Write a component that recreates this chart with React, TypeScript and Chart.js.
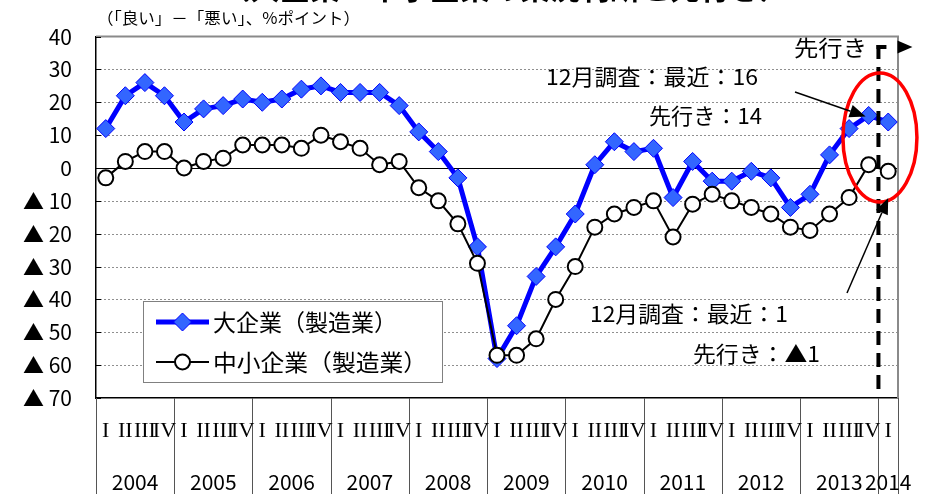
import { useEffect, useRef } from "react";
import { Chart, registerables } from "chart.js";
Chart.register(...registerables);

const years = ["2004", "2005", "2006", "2007", "2008", "2009", "2010", "2011", "2012", "2013", "2014"];
const quarterNames = ["I", "II", "III", "IV"];
const quartersInLastYear = 1;

const largeMfg = [12, 22, 26, 22, 14, 18, 19, 21, 20, 21, 24, 25, 23, 23, 23, 19, 11, 5, -3, -24, -58, -48, -33, -24, -14, 1, 8, 5, 6, -9, 2, -4, -4, -1, -3, -12, -8, 4, 12, 16, 14];
const smallMfg = [-3, 2, 5, 5, 0, 2, 3, 7, 7, 7, 6, 10, 8, 6, 1, 2, -6, -10, -17, -29, -57, -57, -52, -40, -30, -18, -14, -12, -10, -21, -11, -8, -10, -12, -14, -18, -19, -14, -9, 1, -1];

const seriesNames = ["大企業（製造業）", "中小企業（製造業）"];
const yMin = -70;
const yMax = 40;
const yStep = 10;

const titleText = "（大企業・中小企業の業況判断と先行き）";
const unitText = "（「良い」－「悪い」、%ポイント）";
const forecastText = "先行き";
const largeLatestText = "12月調査：最近：16";
const largeForecastText = "先行き：14";
const smallLatestText = "12月調査：最近：1";
const smallForecastText = "先行き：▲1";

const categories: string[] = [];
years.forEach((y, yi) => {
  const n = yi === years.length - 1 ? quartersInLastYear : 4;
  for (let q = 0; q < n; q++) categories.push(`${y} ${quarterNames[q]}`);
});

const FONT = "'Noto Sans CJK JP', 'Noto Sans', sans-serif";

function fitText(ctx: CanvasRenderingContext2D, text: string, left: number, right: number, y: number) {
  const w = ctx.measureText(text).width;
  const target = right - left;
  const k = w > 0 ? target / w : 1;
  ctx.save();
  ctx.textAlign = "left";
  ctx.translate(left, y);
  ctx.scale(k, 1);
  ctx.fillText(text, 0, 0);
  ctx.restore();
}

function arrow(ctx: CanvasRenderingContext2D, x1: number, y1: number, x2: number, y2: number) {
  const ang = Math.atan2(y2 - y1, x2 - x1);
  const len = 16, half = 6.5;
  const bx = x2 - Math.cos(ang) * len, by = y2 - Math.sin(ang) * len;
  ctx.save();
  ctx.strokeStyle = "#000";
  ctx.lineWidth = 1.5;
  ctx.beginPath();
  ctx.moveTo(x1, y1);
  ctx.lineTo(bx, by);
  ctx.stroke();
  ctx.fillStyle = "#000";
  ctx.beginPath();
  ctx.moveTo(x2, y2);
  ctx.lineTo(bx + Math.sin(ang) * half, by - Math.cos(ang) * half);
  ctx.lineTo(bx - Math.sin(ang) * half, by + Math.cos(ang) * half);
  ctx.closePath();
  ctx.fill();
  ctx.restore();
}

const decorPlugin = {
  id: "decor",
  beforeDatasetsDraw(chart: any) {
    const { ctx, chartArea: ca, scales } = chart;
    const ys = scales.y;
    ctx.save();
    for (let v = yMin + yStep; v < yMax; v += yStep) {
      const py = Math.round(ys.getPixelForValue(v)) + 0.5;
      ctx.beginPath();
      if (v === 0) {
        ctx.setLineDash([]);
        ctx.strokeStyle = "#000";
      } else {
        ctx.setLineDash([2, 2]);
        ctx.strokeStyle = "#8f8f8f";
      }
      ctx.lineWidth = 1;
      ctx.moveTo(ca.left, py);
      ctx.lineTo(ca.right, py);
      ctx.stroke();
    }
    ctx.setLineDash([]);
    ctx.strokeStyle = "#8a8a8a";
    ctx.lineWidth = 2;
    ctx.beginPath();
    ctx.moveTo(ca.left, ca.top);
    ctx.lineTo(ca.right, ca.top);
    ctx.lineTo(ca.right, ca.bottom);
    ctx.stroke();
    ctx.strokeStyle = "#000";
    ctx.lineWidth = 1;
    for (let v = yMin; v <= yMax; v += yStep) {
      const py = Math.round(ys.getPixelForValue(v)) + 0.5;
      ctx.beginPath();
      ctx.moveTo(ca.left, py);
      ctx.lineTo(ca.left + 5, py);
      ctx.stroke();
    }
    ctx.restore();
  },
  afterDatasetsDraw(chart: any) {
    const { ctx, chartArea: ca, scales } = chart;
    const xs = scales.x, ys = scales.y;
    const step = xs.getPixelForValue(1) - xs.getPixelForValue(0);
    const n = categories.length;
    ctx.save();

    // forecast dashed line
    const fx = xs.getPixelForValue(n - 1) - step / 2;
    const topY = 47;
    ctx.strokeStyle = "#000";
    ctx.lineWidth = 4;
    ctx.setLineDash([14, 8]);
    ctx.beginPath();
    ctx.moveTo(fx, topY - 2);
    ctx.lineTo(fx, ca.bottom);
    ctx.stroke();
    ctx.setLineDash([]);
    ctx.beginPath();
    ctx.moveTo(fx - 2, topY);
    ctx.lineTo(fx + 8, topY);
    ctx.stroke();
    ctx.fillStyle = "#000";
    ctx.beginPath();
    ctx.moveTo(fx + 19, topY - 6.5);
    ctx.lineTo(fx + 34, topY);
    ctx.lineTo(fx + 19, topY + 6.5);
    ctx.closePath();
    ctx.fill();

    // red ellipse
    ctx.strokeStyle = "#ff0000";
    ctx.lineWidth = 3.5;
    ctx.beginPath();
    ctx.ellipse(fx + 1.5, 137.5, 37, 64.5, 0, 0, Math.PI * 2);
    ctx.stroke();

    // arrows
    const lx = xs.getPixelForValue(n - 2), ly = ys.getPixelForValue(largeMfg[n - 2]);
    arrow(ctx, 795, 92, lx - 3, ly + 1);
    const sx = xs.getPixelForValue(n - 1);
    arrow(ctx, 847, 293, sx, 198);

    // annotation texts
    ctx.fillStyle = "#000";
    ctx.textBaseline = "middle";
    ctx.textAlign = "left";
    ctx.font = `22px ${FONT}`;
    fitText(ctx, forecastText, 794, 867, 48);
    fitText(ctx, largeLatestText, 546, 758, 77);
    fitText(ctx, largeForecastText, 649, 762, 116);
    fitText(ctx, smallLatestText, 590, 788, 314);
    fitText(ctx, smallForecastText, 693, 820, 354);

    // legend
    const bx = 143, by = 301, bw = 299, bh = 81;
    ctx.fillStyle = "#fff";
    ctx.fillRect(bx, by, bw, bh);
    ctx.strokeStyle = "#808080";
    ctx.lineWidth = 1;
    ctx.strokeRect(bx + 0.5, by + 0.5, bw, bh);
    const r1 = 322, r2 = 362;
    ctx.strokeStyle = "#0000ff";
    ctx.lineWidth = 5;
    ctx.beginPath();
    ctx.moveTo(156, r1);
    ctx.lineTo(209, r1);
    ctx.stroke();
    ctx.fillStyle = "#3366ff";
    ctx.strokeStyle = "#0000ff";
    ctx.lineWidth = 1;
    ctx.beginPath();
    ctx.moveTo(182.5, r1 - 9);
    ctx.lineTo(191.5, r1);
    ctx.lineTo(182.5, r1 + 9);
    ctx.lineTo(173.5, r1);
    ctx.closePath();
    ctx.fill();
    ctx.stroke();
    ctx.strokeStyle = "#000";
    ctx.lineWidth = 2;
    ctx.beginPath();
    ctx.moveTo(156, r2);
    ctx.lineTo(209, r2);
    ctx.stroke();
    ctx.fillStyle = "#fff";
    ctx.beginPath();
    ctx.arc(182.5, r2, 7.5, 0, Math.PI * 2);
    ctx.fill();
    ctx.stroke();
    ctx.fillStyle = "#000";
    ctx.font = `23px ${FONT}`;
    fitText(ctx, seriesNames[0], 213, 397, r1);
    fitText(ctx, seriesNames[1], 213, 427, r2);

    // x axis labels and separators
    ctx.strokeStyle = "#555";
    ctx.lineWidth = 1;
    const bounds: number[] = [];
    for (let i = 0; i < n; i += 4) bounds.push(i);
    bounds.push(n);
    bounds.forEach((i) => {
      const px = Math.round(xs.getPixelForValue(0) - step / 2 + i * step) + 0.5;
      ctx.beginPath();
      ctx.moveTo(px, ca.bottom);
      ctx.lineTo(px, chart.height);
      ctx.stroke();
    });
    ctx.textAlign = "center";
    ctx.font = `22px 'Liberation Serif', 'DejaVu Serif', serif`;
    categories.forEach((c, i) => {
      const q = c.split(" ")[1];
      ctx.fillText(q, xs.getPixelForValue(i), 431);
    });
    ctx.font = `21px ${FONT}`;
    years.forEach((y, yi) => {
      const first = yi * 4;
      const cnt = yi === years.length - 1 ? quartersInLastYear : 4;
      const cx = xs.getPixelForValue(first) - step / 2 + (cnt * step) / 2;
      ctx.fillText(y, cx, 482);
    });

    // unit and title
    ctx.font = `16px ${FONT}`;
    fitText(ctx, unitText, 97, 360, 18);
    ctx.textAlign = "center";
    ctx.textBaseline = "alphabetic";
    ctx.font = `bold 30px ${FONT}`;
    ctx.fillText(titleText, 505, -1);
    ctx.restore();
  },
};

export default function App() {
  const ref = useRef<HTMLCanvasElement>(null);
  useEffect(() => {
    document.body.style.margin = "0";
    const canvas = ref.current!;
    const chart = new Chart(canvas, {
      type: "line",
      data: {
        labels: categories,
        datasets: [
          {
            label: seriesNames[0],
            data: largeMfg,
            borderColor: "#0000ff",
            borderWidth: 5,
            backgroundColor: "#3366ff",
            pointStyle: "rectRot",
            pointRadius: 9,
            pointBorderWidth: 1,
            pointBorderColor: "#0000ff",
            pointBackgroundColor: "#3366ff",
            tension: 0,
            order: 2,
          },
          {
            label: seriesNames[1],
            data: smallMfg,
            borderColor: "#000000",
            borderWidth: 2,
            pointStyle: "circle",
            pointRadius: 7.5,
            pointBorderWidth: 2,
            pointBorderColor: "#000000",
            pointBackgroundColor: "#ffffff",
            tension: 0,
            order: 1,
          },
        ],
      },
      options: {
        responsive: false,
        animation: false,
        devicePixelRatio: 1,
        layout: { padding: { top: 29, right: 33, left: 0, bottom: 0 } },
        plugins: { legend: { display: false }, tooltip: { enabled: false }, title: { display: false } },
        scales: {
          x: {
            type: "category",
            offset: true,
            grid: { display: false },
            border: { display: true, color: "#000", width: 1.5 },
            ticks: { display: false },
            afterFit: (s: any) => { s.height = 96; },
          },
          y: {
            min: yMin,
            max: yMax,
            grid: { display: false, drawTicks: false },
            border: { display: true, color: "#000", width: 1.5 },
            ticks: {
              stepSize: yStep,
              padding: 24,
              color: "#000",
              font: { family: FONT, size: 21 },
              callback: (v: any) => (v < 0 ? `▲ ${-v}` : `${v}`),
            },
            afterFit: (s: any) => { s.width = 96; },
          },
        },
      },
      plugins: [decorPlugin],
    });
    return () => chart.destroy();
  }, []);
  return (
    <div style={{ width: 931, height: 494, background: "#fff" }}>
      <canvas ref={ref} width={931} height={494} style={{ display: "block" }} />
    </div>
  );
}
